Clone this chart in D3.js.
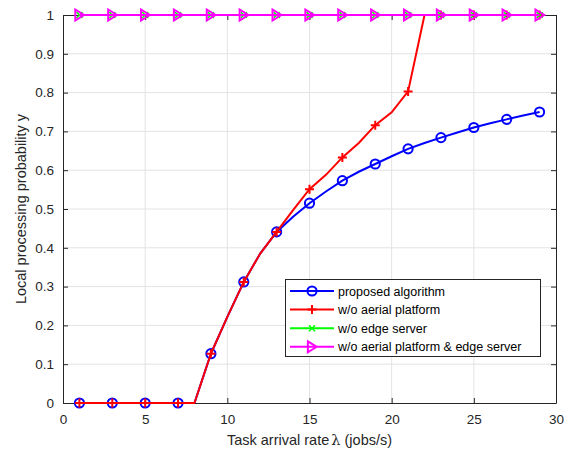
<!DOCTYPE html>
<html><head><meta charset="utf-8">
<script src="https://cdn.jsdelivr.net/npm/d3@7"></script>
<style>body{margin:0;background:#fff;} text{font-family:"Liberation Sans",Arial,sans-serif;}</style>
</head><body><svg id="c" width="580" height="452"></svg>
<script>
const xs = d3.range(1, 30); // 1..29
const proposed = [0,0,0,0,0,0,0,0,0.127,0.222,0.312,0.385,0.441,0.480,0.515,0.545,0.573,0.596,0.616,0.636,0.655,0.670,0.684,0.697,0.710,0.721,0.731,0.741,0.750];
const noAerial = [0,0,0,0,0,0,0,0,0.127,0.222,0.312,0.385,0.441,0.497,0.551,0.588,0.633,0.670,0.716,0.749,0.803,1,1,1,1,1,1,1,1];
const noEdge = [1,1,1,1,1,1,1,1,1,1,1,1,1,1,1,1,1,1,1,1,1,1,1,1,1,1,1,1,1];
const noBoth = [1,1,1,1,1,1,1,1,1,1,1,1,1,1,1,1,1,1,1,1,1,1,1,1,1,1,1,1,1];
const seriesNames = ["proposed algorithm","w/o aerial platform","w/o edge server","w/o aerial platform & edge server"];
const xTicks = [0,5,10,15,20,25,30];
const yTicks = [0,0.1,0.2,0.3,0.4,0.5,0.6,0.7,0.8,0.9,1];

const svg = d3.select("#c");
const L=63, R=556, T=15, B=403;
const x = d3.scaleLinear().domain([0,30]).range([L,R]);
const y = d3.scaleLinear().domain([0,1]).range([B,T]);
const axisCol="#262626";

// grid
const g = svg.append("g");
g.selectAll(".gx").data(xTicks.slice(1,-1)).enter().append("line")
 .attr("x1",d=>x(d)).attr("x2",d=>x(d)).attr("y1",T).attr("y2",B).attr("stroke","#e3e3e3").attr("stroke-width",1);
g.selectAll(".gy").data(yTicks.slice(1,-1)).enter().append("line")
 .attr("x1",L).attr("x2",R).attr("y1",d=>y(d)).attr("y2",d=>y(d)).attr("stroke","#e3e3e3").attr("stroke-width",1);

// axes
function styleAxis(sel){ sel.select(".domain").attr("stroke",axisCol); sel.selectAll(".tick line").attr("stroke",axisCol);
 sel.selectAll(".tick text").attr("fill",axisCol).style("font-size","13.5px").style("font-family","Liberation Sans, Arial, sans-serif"); }
const xa = svg.append("g").attr("transform",`translate(0,${B})`)
 .call(d3.axisBottom(x).tickValues(xTicks).tickFormat(d3.format("d")).tickSizeInner(-5).tickSizeOuter(0).tickPadding(11));
styleAxis(xa);
const xt = svg.append("g").attr("transform",`translate(0,${T})`)
 .call(d3.axisTop(x).tickValues(xTicks).tickFormat("").tickSizeInner(-5).tickSizeOuter(0));
styleAxis(xt);
const ya = svg.append("g").attr("transform",`translate(${L},0)`)
 .call(d3.axisLeft(y).tickValues(yTicks).tickFormat(d=>d===0||d===1?String(d):d3.format(".1f")(d)).tickSizeInner(-5).tickSizeOuter(0).tickPadding(9));
styleAxis(ya);
const yr = svg.append("g").attr("transform",`translate(${R},0)`)
 .call(d3.axisRight(y).tickValues(yTicks).tickFormat("").tickSizeInner(-5).tickSizeOuter(0));
styleAxis(yr);

// labels
const xl = svg.append("text").attr("x",(L+R)/2).attr("y",445).attr("text-anchor","middle").attr("fill",axisCol).style("font-size","14.5px");
xl.append("tspan").text("Task arrival rate");
xl.append("tspan").text("λ").style("font-family","DejaVu Serif").attr("dx",2);
xl.append("tspan").text(" (jobs/s)");
svg.append("text").attr("transform",`translate(26,${(T+B)/2}) rotate(-90)`).attr("text-anchor","middle").attr("fill",axisCol).style("font-size","14.5px")
 .text("Local processing probability y");

const line = d3.line().x(d=>x(d[0])).y(d=>y(d[1]));
const plot = svg.append("g");
function markerPath(type, s){
 if(type==="+") return `M${-s},0H${s}M0,${-s}V${s}`;
 if(type==="x") return `M${-s},${-s}L${s},${s}M${-s},${s}L${s},${-s}`;
 if(type===">") return `M${-s*0.75},${-s}L${s*0.85},0L${-s*0.75},${s}Z`;
 return null;
}
function drawMarker(gg, type, color, cx, cy){
 if(type==="o") gg.append("circle").attr("cx",cx).attr("cy",cy).attr("r",4.6).attr("fill","none").attr("stroke",color).attr("stroke-width",2);
 else { const s = type==="+"?4.5:(type==="x"?3:5.5);
  gg.append("path").attr("transform",`translate(${cx},${cy})`).attr("d",markerPath(type,s)).attr("fill","none").attr("stroke",color).attr("stroke-width",type==="x"?1.5:2); }
}
const series = [
 {vals:proposed,color:"#0000ff",m:"o"},
 {vals:noAerial,color:"#ff0000",m:"+"},
 {vals:noEdge,color:"#00ff00",m:"x"},
 {vals:noBoth,color:"#ff00ff",m:">"}
];
series.forEach(s=>{
 const pts = xs.map((xv,i)=>[xv,s.vals[i]]);
 plot.append("path").attr("d",line(pts)).attr("fill","none").attr("stroke",s.color).attr("stroke-width",2);
 pts.filter((p,i)=>i%2===0).forEach(p=>drawMarker(plot,s.m,s.color,x(p[0]),y(p[1])));
});

// legend
const lg = svg.append("g");
lg.append("rect").attr("x",285.5).attr("y",279.5).attr("width",255).attr("height",77).attr("fill","#fff").attr("stroke",axisCol).attr("stroke-width",1);
series.forEach((s,i)=>{
 const cy = 291 + i*18.6;
 lg.append("line").attr("x1",290).attr("x2",334).attr("y1",cy).attr("y2",cy).attr("stroke",s.color).attr("stroke-width",2);
 drawMarker(lg,s.m,s.color,312,cy);
 lg.append("text").attr("x",338).attr("y",cy+4.5).attr("fill","#000").style("font-size","12.5px").text(seriesNames[i]);
});
</script></body></html>
